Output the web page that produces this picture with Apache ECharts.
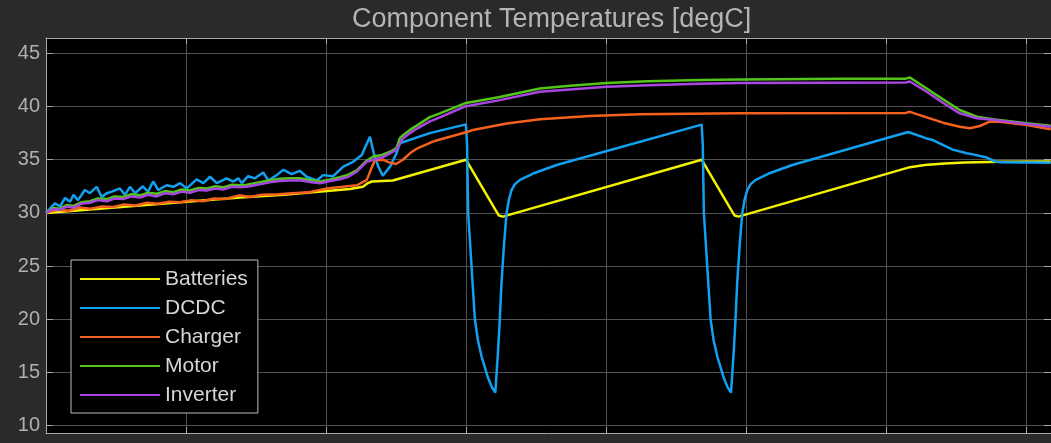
<!DOCTYPE html>
<html>
<head>
<meta charset="utf-8">
<script src="https://cdn.jsdelivr.net/npm/echarts@6/dist/echarts.min.js"></script>
<style>
html,body{margin:0;padding:0;background:#2a2a2a;}
#chart{width:1051px;height:443px;}
</style>
</head>
<body>
<div id="chart"></div>
<script>
// ---- data (time in s, temperature in degC) ----
const seriesNames = ['Batteries', 'DCDC', 'Charger', 'Motor', 'Inverter'];
const yTicks = [10, 15, 20, 25, 30, 35, 40, 45];

const batteries = [[0,30.0],[693,31.45],[850,31.7],[1004,32.05],[1086,32.25],[1132,32.45],[1150,32.8],[1164,32.95],[1239,33.05],[1500,35.0],[1605,30.3],[1618,29.75],[1632,29.65],[2342,35.0],[2447,30.3],[2460,29.75],[2474,29.65],[3086,34.3],[3139,34.5],[3211,34.65],[3282,34.73],[3407,34.8],[3589,34.82]];

const dcdc = [[0,30.0],[32,30.9],[50,30.6],[68,31.4],[86,31.05],[98,31.7],[114,31.2],[139,32.15],[157,31.85],[181,32.45],[199,31.5],[217,31.85],[235,32.0],[264,32.3],[282,31.7],[300,32.45],[318,31.85],[346,32.5],[364,32.0],[383,32.95],[401,32.15],[431,32.6],[455,32.45],[479,32.8],[503,32.3],[538,33.15],[562,32.8],[586,33.4],[610,32.8],[645,33.25],[669,32.95],[687,33.25],[699,32.8],[722,33.45],[746,33.25],[776,33.8],[794,33.05],[824,33.55],[848,34.05],[877,33.65],[907,33.95],[931,33.4],[967,33.05],[990,33.55],[1026,33.45],[1062,34.35],[1097,34.8],[1128,35.45],[1157,37.15],[1171,35.6],[1187,34.35],[1203,33.5],[1229,34.35],[1252,35.6],[1264,36.55],[1371,37.5],[1489,38.25],[1500,38.3],[1504,36.5],[1508,30.0],[1520,25.0],[1532,20.0],[1543,18.0],[1556,16.5],[1579,14.5],[1593,13.6],[1605,13.1],[1615,17.1],[1621,20.0],[1627,23.4],[1636,27.0],[1645,29.95],[1654,31.3],[1663,32.15],[1675,32.7],[1693,33.1],[1740,33.7],[1824,34.5],[2342,38.3],[2346,36.5],[2350,30.0],[2362,25.0],[2374,20.0],[2385,18.0],[2398,16.5],[2421,14.5],[2435,13.6],[2447,13.1],[2457,17.1],[2463,20.0],[2469,23.4],[2478,27.0],[2487,29.95],[2496,31.3],[2505,32.15],[2517,32.7],[2535,33.1],[2582,33.7],[2666,34.5],[3080,37.6],[3145,37.0],[3168,36.85],[3239,35.95],[3289,35.6],[3311,35.5],[3361,35.2],[3389,34.85],[3407,34.75],[3589,34.72]];

const charger = [[0,30.0],[40,30.3],[80,30.2],[120,30.5],[160,30.4],[200,30.6],[240,30.55],[280,30.8],[320,30.7],[360,30.95],[400,30.85],[440,31.05],[480,31.0],[520,31.2],[560,31.1],[600,31.35],[640,31.3],[690,31.65],[730,31.5],[770,31.7],[830,31.75],[880,31.85],[940,31.95],[1004,32.3],[1060,32.45],[1111,32.6],[1146,33.1],[1164,34.3],[1175,34.95],[1204,35.0],[1225,34.75],[1250,34.6],[1275,35.0],[1300,35.6],[1325,36.05],[1382,36.7],[1407,36.9],[1504,37.6],[1525,37.8],[1646,38.4],[1764,38.8],[1943,39.1],[2121,39.27],[2479,39.36],[3071,39.4],[3086,39.5],[3146,38.98],[3204,38.48],[3264,38.1],[3300,37.95],[3336,38.17],[3371,38.57],[3407,38.57],[3504,38.26],[3589,37.85]];

const motor = [[0,30.0],[25,30.45],[50,30.4],[75,30.75],[98,30.65],[125,31.0],[157,31.1],[185,31.35],[217,31.3],[245,31.55],[276,31.5],[305,31.75],[336,31.65],[365,31.9],[395,31.8],[425,32.05],[455,31.95],[485,32.2],[514,32.1],[545,32.35],[574,32.3],[605,32.5],[633,32.4],[665,32.65],[693,32.6],[717,32.65],[745,32.8],[776,32.95],[805,33.1],[836,33.2],[870,33.25],[907,33.25],[943,33.1],[979,32.95],[1015,33.15],[1050,33.35],[1080,33.6],[1110,34.0],[1145,34.9],[1169,35.3],[1200,35.45],[1229,35.75],[1252,36.1],[1264,37.0],[1275,37.3],[1300,37.8],[1330,38.3],[1371,39.0],[1407,39.36],[1496,40.3],[1621,40.9],[1764,41.7],[1861,41.93],[2003,42.2],[2150,42.38],[2336,42.5],[2479,42.55],[2850,42.6],[3071,42.62],[3086,42.72],[3146,41.7],[3204,40.68],[3264,39.67],[3325,39.04],[3382,38.8],[3504,38.42],[3589,38.2]];

const inverter = [[0,30.0],[25,30.35],[50,30.3],[75,30.6],[98,30.5],[125,30.85],[157,30.95],[185,31.2],[217,31.1],[245,31.35],[276,31.3],[305,31.55],[336,31.45],[365,31.7],[395,31.55],[425,31.85],[455,31.75],[485,32.0],[514,31.9],[545,32.15],[574,32.1],[605,32.3],[633,32.2],[665,32.45],[693,32.4],[717,32.45],[745,32.6],[776,32.75],[805,32.9],[836,33.0],[870,33.05],[907,33.07],[943,32.9],[979,32.78],[1015,33.0],[1050,33.16],[1080,33.4],[1110,33.87],[1145,34.8],[1169,35.0],[1200,35.2],[1229,35.6],[1252,35.95],[1264,36.5],[1275,37.0],[1300,37.5],[1330,38.0],[1371,38.6],[1407,38.98],[1496,40.0],[1621,40.6],[1764,41.39],[2003,41.86],[2150,42.0],[2336,42.15],[2479,42.2],[3071,42.25],[3086,42.35],[3146,41.39],[3204,40.35],[3264,39.36],[3325,38.9],[3382,38.75],[3504,38.35],[3589,38.1]];

const seriesData = [batteries, dcdc, charger, motor, inverter];
const seriesColors = ['#f2f200', '#12a0f0', '#f5601e', '#52c41a', '#a846e0'];

// ---- chart ----
const chart = echarts.init(document.getElementById('chart'), null, {renderer: 'canvas'});
const FONT = 'Liberation Sans, Arial, Helvetica, sans-serif';
const axisLineColor = '#a8a8a8';
const gridColor = '#525252';

const xCommon = {
  type: 'value', min: 0, max: 3590, interval: 500,
  axisLabel: {show: false},
  axisLine: {show: true, onZero: false, lineStyle: {color: axisLineColor, width: 1}},
  axisTick: {show: true, inside: true, length: 6, lineStyle: {color: axisLineColor}}
};
const yCommon = {
  type: 'value', min: 9.31, max: 46.44,
  axisLine: {show: true, onZero: false, lineStyle: {color: axisLineColor, width: 1}},
  axisTick: {show: true, inside: true, length: 7, customValues: yTicks, lineStyle: {color: axisLineColor}}
};

chart.setOption({
  animation: false,
  backgroundColor: '#2a2a2a',
  title: {
    text: 'Component Temperatures [degC]',
    left: 352, top: 5, padding: 0,
    textStyle: {color: '#b4b4b4', fontSize: 27, fontWeight: 'normal', fontFamily: FONT, lineHeight: 30}
  },
  grid: {left: 46, right: 0, top: 38, bottom: 10, show: true, backgroundColor: '#000000', borderWidth: 0},
  legend: {
    data: seriesNames,
    orient: 'vertical',
    left: 71, top: 260,
    padding: [8, 10, 7, 9],
    backgroundColor: '#000000',
    borderColor: '#bdbdbd', borderWidth: 1, borderRadius: 0,
    icon: 'rect', itemWidth: 80, itemHeight: 2, itemGap: 7,
    textStyle: {color: '#d6d6d6', fontSize: 21, fontFamily: FONT, lineHeight: 22}
  },
  xAxis: [
    Object.assign({}, xCommon, {position: 'bottom', splitLine: {show: true, lineStyle: {color: gridColor, width: 1}}}),
    Object.assign({}, xCommon, {position: 'top', splitLine: {show: false}})
  ],
  yAxis: [
    Object.assign({}, yCommon, {
      position: 'left',
      axisLabel: {show: true, customValues: yTicks, color: '#b0b0b0', fontSize: 20, fontFamily: FONT, margin: 6},
      splitLine: {show: true, lineStyle: {color: gridColor, width: 1}}
    }),
    Object.assign({}, yCommon, {position: 'right', axisLabel: {show: false}, splitLine: {show: false}})
  ],
  series: seriesNames.map((name, i) => ({
    name: name,
    type: 'line',
    xAxisIndex: 0, yAxisIndex: 0,
    data: seriesData[i],
    showSymbol: false, symbol: 'none',
    color: seriesColors[i],
    lineStyle: {color: seriesColors[i], width: 2.5},
    itemStyle: {color: seriesColors[i]}
  }))
});
</script>
</body>
</html>
